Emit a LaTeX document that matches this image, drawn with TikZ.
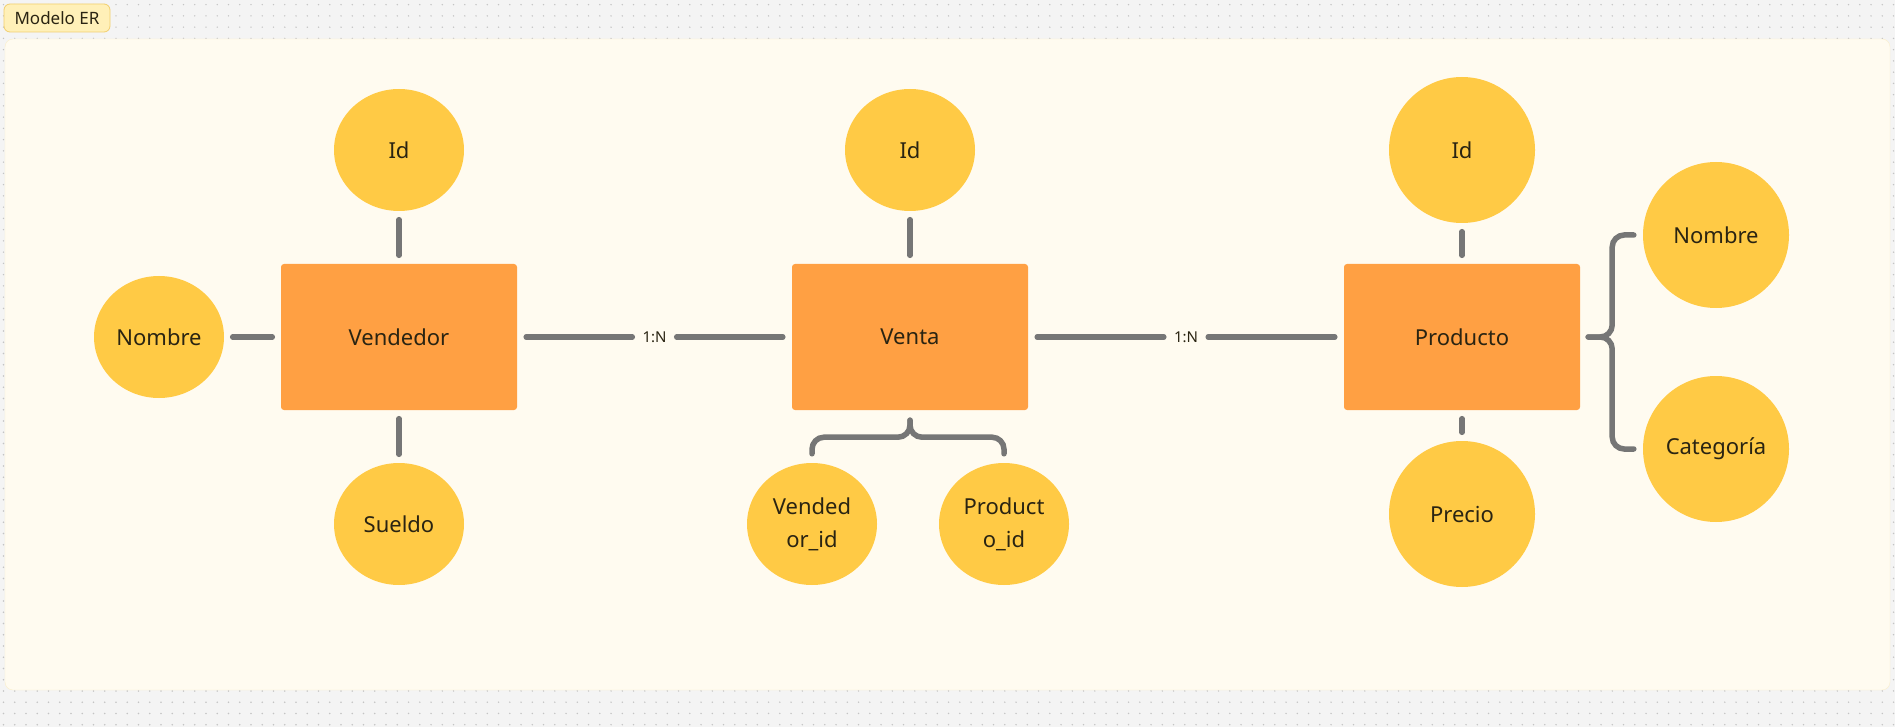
\documentclass[tikz,border=0pt]{standalone}
\usepackage{fontspec}
\setmainfont{Noto Sans}
\usetikzlibrary{shapes.geometric}
\definecolor{bggray}{HTML}{F4F4F4}
\definecolor{dotgray}{HTML}{C4C4C4}
\definecolor{panelfill}{HTML}{FFFBF0}
\definecolor{panelline}{HTML}{FBEFCB}
\definecolor{tagfill}{HTML}{FFF0B8}
\definecolor{tagline}{HTML}{F2CF6E}
\definecolor{attryellow}{HTML}{FFCA45}
\definecolor{entorange}{HTML}{FFA043}
\definecolor{linkgray}{HTML}{767676}
\definecolor{inktext}{HTML}{2A2412}
\begin{document}
\begin{tikzpicture}[x=1pt,y=-1pt]
    \tikzstyle{attr}=[ellipse,fill=attryellow,minimum width=130pt,minimum height=122pt,inner sep=0pt,
      text=inktext,align=center,font=\fontsize{22}{33}\selectfont]
    \tikzstyle{bigattr}=[attr,minimum width=146pt,minimum height=146pt]
    \tikzstyle{entity}=[rectangle,rounded corners=3pt,fill=entorange,minimum width=236pt,
      minimum height=146pt,text=inktext,font=\fontsize{22}{26}\selectfont]
    \tikzstyle{link}=[draw=linkgray,line width=5.5pt,line cap=round]
    \tikzstyle{card}=[inner sep=1pt,text=inktext,font=\fontsize{15}{18}\selectfont]
    \tikzstyle{tagbox}=[rectangle,rounded corners=6pt,fill=tagfill,draw=tagline,line width=0.8pt,
      minimum width=106pt,minimum height=28pt,text=inktext,font=\fontsize{17}{20}\selectfont]

    \useasboundingbox (0,0) rectangle (1895,727);

    % board with dots
    \fill[bggray] (0,0) rectangle (1895,727);
    \foreach \i in {0,...,168}
    \foreach \j in {0,1,2,3,61,62,63,64}
    \fill[dotgray] (3.5+\i*11.25,4.7+\j*11.25) circle (0.8pt);
    \foreach \i in {0,168}
    \foreach \j in {4,...,60}
    \fill[dotgray] (3.5+\i*11.25,4.7+\j*11.25) circle (0.8pt);

    % frame
    \filldraw[fill=panelfill,draw=panelline,rounded corners=8pt] (5,39) rectangle (1890,690);
    \node[tagbox] (tag) at (57,18) {Modelo ER};

    % entities
    \node[entity] (vend) at (399,337) {Vendedor};
    \node[entity] (venta) at (910,337) {Venta};
    \node[entity] (prod) at (1462,337) {Producto};

    % attributes of Vendedor
    \node[attr] (vend-id) at (399,150) {Id};
    \node[attr] (vend-nom) at (159,337) {Nombre};
    \node[attr] (vend-sue) at (399,524) {Sueldo};

    % attributes of Venta
    \node[attr] (venta-id) at (910,150) {Id};
    \node[attr] (venta-vid) at (812,524) {Vended\\or\_id};
    \node[attr] (venta-pid) at (1004,524) {Product\\o\_id};

    % attributes of Producto
    \node[bigattr] (prod-id) at (1462,150) {Id};
    \node[bigattr] (prod-pre) at (1462,514) {Precio};
    \node[bigattr] (prod-nom) at (1716,235) {Nombre};
    \node[bigattr] (prod-cat) at (1716,449) {Categoría};

    % cardinalities
    \node[card] (c-1) at (654.5,337) {1:N};
    \node[card] (c-2) at (1186,337) {1:N};

    % simple links
    \foreach \src/\dst in {vend-id/vend,vend-nom/vend,vend-sue/vend,venta-id/venta,prod-id/prod,prod-pre/prod}
    \path[link,shorten >=8.5pt,shorten <=8.5pt] (\src) edge (\dst);

    % relations
    \foreach \src/\dst in {vend/c-1,c-1/venta,venta/c-2,c-2/prod}
    \path[link,shorten >=9pt,shorten <=9pt] (\src) edge (\dst);

    % braces
    \coordinate (venta-br) at ([yshift=-10pt]venta.south);
    \foreach \dst in {venta-vid,venta-pid}
    \draw[link,rounded corners=12pt] (venta-br) -- ++(0,17) -| ([yshift=9pt]\dst.north);
    \coordinate (prod-br) at ([xshift=8pt]prod.east);
    \foreach \dst in {prod-nom,prod-cat}
    \draw[link,rounded corners=12pt] (prod-br) -- ++(24,0) |- ([xshift=-9pt]\dst.west);
  \end{tikzpicture}
\end{document}
